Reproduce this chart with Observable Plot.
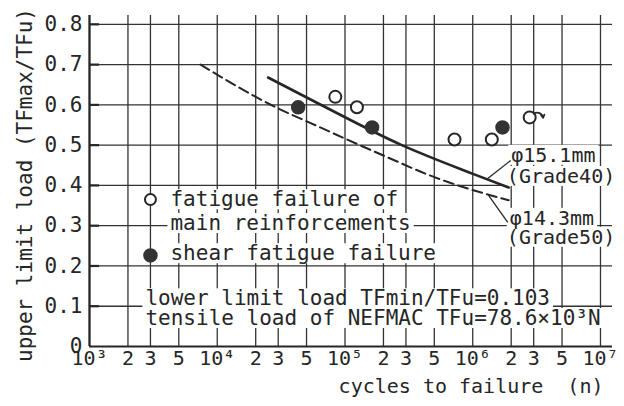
<!DOCTYPE html>
<html><head><meta charset="utf-8">
<script src="https://cdn.jsdelivr.net/npm/d3@7"></script>
<script src="https://cdn.jsdelivr.net/npm/@observablehq/plot@0.6"></script>
<style>
body{margin:0;background:#fff;}
</style></head><body><div id="chart"></div>
<script>
// ---- data ----
const xTicks = [1e3,2e3,3e3,5e3,1e4,2e4,3e4,5e4,1e5,2e5,3e5,5e5,1e6,2e6,3e6,5e6,1e7];
const yTicks = [0,0.1,0.2,0.3,0.4,0.5,0.6,0.7,0.8];

const fatigueN    = [8.4e4, 1.24e5, 7.2e5, 1.41e6, 2.79e6];
const fatigueLoad = [0.620, 0.594, 0.514, 0.514, 0.569];

const shearN    = [4.3e4, 1.63e5, 1.71e6];
const shearLoad = [0.594, 0.544, 0.544];

const grade40N    = [2.5e4, 6.4e4, 2.7e5, 9.8e5, 1.91e6];
const grade40Load = [0.668, 0.601, 0.502, 0.430, 0.395];

const grade50N    = [7.4e3, 2.6e4, 6.4e4, 2.33e5, 4.6e5, 1.91e6];
const grade50Load = [0.700, 0.601, 0.544, 0.465, 0.425, 0.363];

const legendText = ["fatigue failure of", "main reinforcements", "shear fatigue failure"];
const legendY    = [0.365, 0.306, 0.231];
const legendMarkX = 3e3;
const legendMarkY = [0.365, 0.226];

const noteText = ["lower limit load TFmin/TFu=0.103", "tensile load of NEFMAC TFu=78.6×10³N"];
const noteX = 2.74e3;
const noteY = [0.119, 0.070];

const seriesText = ["φ15.1mm", "(Grade40)", "φ14.3mm", "(Grade50)"];
const seriesX    = [2.0e6, 1.85e6, 1.95e6, 1.85e6];
const seriesY    = [0.4745, 0.422, 0.318, 0.271];

const leaderX1 = [1.31e6, 1.33e6], leaderY1 = [0.417, 0.375];
const leaderX2 = [1.98e6, 1.88e6], leaderY2 = [0.462, 0.308];

const runoutX1 = 3.0e6, runoutX2 = 3.55e6, runoutY1 = 0.578, runoutY2 = 0.568;

const xLabel = "cycles to failure\u00a0\u00a0(n)";
const yLabel = "upper limit load (TFmax/TFu)";

// ---- helpers ----
const sup = {3:"³",4:"⁴",5:"⁵",6:"⁶",7:"⁷"};
const fmtX = d => {
  const e = Math.floor(Math.log10(d) + 1e-9);
  const m = Math.round(d / 10 ** e);
  return m === 1 ? "10" + sup[e] : String(m);
};
const fmtY = d => d === 0 ? "0" : d.toFixed(1);

const fatigue = fatigueN.map((n, i) => ({n, y: fatigueLoad[i]}));
const shear = shearN.map((n, i) => ({n, y: shearLoad[i]}));
const g40 = grade40N.map((n, i) => ({n, y: grade40Load[i]}));
const g50 = grade50N.map((n, i) => ({n, y: grade50Load[i]}));
const legend = legendText.map((t, i) => ({t, y: legendY[i]}));
const notes = noteText.map((t, i) => ({t, y: noteY[i]}));
const series = seriesText.map((t, i) => ({t, x: seriesX[i], y: seriesY[i]}));
const leaders = leaderX1.map((x1, i) => ({x1, y1: leaderY1[i], x2: leaderX2[i], y2: leaderY2[i]}));

const ink = "#262626";

const chart = Plot.plot({
  width: 624, height: 406,
  marginLeft: 89, marginRight: 12, marginTop: 15, marginBottom: 60,
  style: {fontFamily: "'DejaVu Sans Mono', monospace", fontSize: "20px", color: ink, background: "#fff"},
  x: {type: "log", domain: [1e3, 10 ** 7.094], axis: null},
  y: {domain: [0, 0.822]},
  marks: [
    Plot.gridX(xTicks, {stroke: "#333", strokeOpacity: 1, strokeWidth: 1.3}),
    Plot.gridY(yTicks.filter(d => d > 0), {stroke: "#333", strokeOpacity: 1, strokeWidth: 1.3}),
    Plot.ruleX([1e3], {stroke: ink, strokeWidth: 2.2}),
    Plot.ruleY([0], {stroke: ink, strokeWidth: 2.2}),
    Plot.text(xTicks, {x: d => d, frameAnchor: "bottom", text: fmtX, lineAnchor: "top", dy: 4, fontSize: 20, fill: ink}),
    Plot.axisY(yTicks, {tickSize: 0, tickPadding: 7, tickFormat: fmtY, label: null, fontSize: 21}),
    Plot.axisY(yTicks.filter(d => d > 0), {tickSize: -10, strokeWidth: 2.2, tickFormat: () => "", label: null}),
    Plot.text([yLabel], {frameAnchor: "left", textAnchor: "middle", rotate: -90, dx: -64, dy: 4, fontSize: 21, fill: ink}),
    Plot.text([xLabel], {frameAnchor: "bottom-right", textAnchor: "end", dx: -9, dy: 46, fontSize: 20, fill: ink}),
    // annotation texts (white box behind, added after render)
    Plot.text(legend, {x: legendMarkX, y: "y", text: "t", textAnchor: "start", dx: 20, fontSize: 21, fill: ink}),
    Plot.text(notes, {x: noteX, y: "y", text: "t", textAnchor: "start", fontSize: 21, fill: ink}),
    Plot.text(series, {x: "x", y: "y", text: "t", textAnchor: "start", fontSize: 20, fill: ink}),
    // legend markers
    Plot.dot([legendMarkY[0]], {x: legendMarkX, y: d => d, r: 5.5, stroke: ink, strokeWidth: 2, fill: "white"}),
    Plot.dot([legendMarkY[1]], {x: legendMarkX, y: d => d, r: 6.5, fill: "#333", stroke: "#333"}),
    // leaders
    Plot.link(leaders, {x1: "x1", y1: "y1", x2: "x2", y2: "y2", stroke: ink, strokeWidth: 1.3}),
    // fitted lines
    Plot.line(g50, {x: "n", y: "y", stroke: ink, strokeWidth: 2, strokeDasharray: "10,5", curve: "monotone-x"}),
    Plot.line(g40, {x: "n", y: "y", stroke: ink, strokeWidth: 2.6, curve: "monotone-x"}),
    // data points
    Plot.dot(fatigue, {x: "n", y: "y", r: 6, stroke: ink, strokeWidth: 2, fill: "white"}),
    Plot.dot(shear, {x: "n", y: "y", r: 6.5, fill: "#333", stroke: "#333"}),
    Plot.arrow([0], {x1: () => runoutX1, y1: () => runoutY1, x2: () => runoutX2, y2: () => runoutY2, bend: 60, headLength: 6, stroke: ink, strokeWidth: 1.8})
  ]
});
document.getElementById("chart").append(chart);

// white boxes behind annotation texts (hide the grid under them, as in the original)
const boxed = new Set([...legendText, ...noteText, ...seriesText]);
d3.select(chart).selectAll("text").each(function () {
  if (!boxed.has(this.textContent)) return;
  const b = this.getBBox();
  const r = document.createElementNS("http://www.w3.org/2000/svg", "rect");
  r.setAttribute("x", b.x - 3);
  r.setAttribute("y", b.y + 2);
  r.setAttribute("width", b.width + 6);
  r.setAttribute("height", b.height - 4);
  r.setAttribute("fill", "white");
  const tr = this.getAttribute("transform");
  if (tr) r.setAttribute("transform", tr);
  this.parentNode.insertBefore(r, this.parentNode.firstChild);
});
</script>
</body></html>
